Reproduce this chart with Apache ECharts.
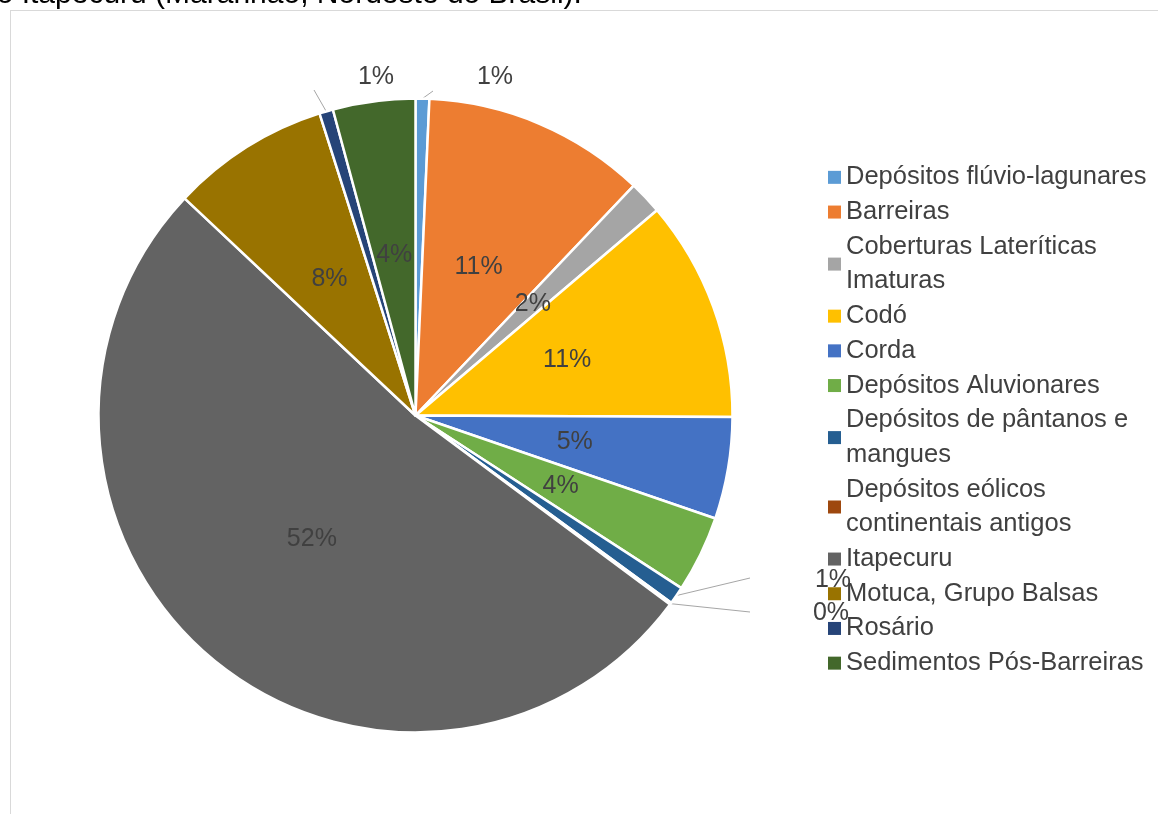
<!DOCTYPE html>
<html>
<head>
<meta charset="utf-8">
<script src="https://cdn.jsdelivr.net/npm/echarts@6/dist/echarts.min.js"></script>
<style>
html,body{margin:0;padding:0;background:#fff;}
#chart{width:1158px;height:814px;}
</style>
</head>
<body>
<div id="chart"></div>
<script>
const categories = [
  'Depósitos flúvio-lagunares',
  'Barreiras',
  'Coberturas Lateríticas Imaturas',
  'Codó',
  'Corda',
  'Depósitos Aluvionares',
  'Depósitos de pântanos e mangues',
  'Depósitos eólicos continentais antigos',
  'Itapecuru',
  'Motuca, Grupo Balsas',
  'Rosário',
  'Sedimentos Pós-Barreiras'
];
const values = [0.7, 11.4, 1.7, 11.3, 5.2, 3.9, 0.9, 0.1, 51.9, 8.1, 0.7, 4.2];
const colors = ['#5B9BD5','#ED7D31','#A5A5A5','#FFC000','#4472C4','#70AD47','#255E91','#9E480E','#636363','#997300','#264478','#43682B'];
const legendNames = {
  'Coberturas Lateríticas Imaturas': 'Coberturas Lateríticas\nImaturas',
  'Depósitos de pântanos e mangues': 'Depósitos de pântanos e\nmangues',
  'Depósitos eólicos continentais antigos': 'Depósitos eólicos\ncontinentais antigos'
};
// outside label placement (layout only): text centre and leader-line end
const outsideLabels = {
  0: {x: 495, y: 77, lx: 433, ly: 91},
  10: {x: 376, y: 77, lx: 314, ly: 90},
  6: {x: 833, y: 580, lx: 750, ly: 578},
  7: {x: 831, y: 613, lx: 750, ly: 612}
};

const FONT = '"Liberation Sans", Arial, sans-serif';
const data = categories.map((name, i) => {
  const item = {name: name, value: values[i], itemStyle: {color: colors[i]}};
  if (outsideLabels[i]) {
    item.label = {position: 'outside'};
    item.labelLine = {show: true, length: 10, length2: 0};
  }
  return item;
});

const chart = echarts.init(document.getElementById('chart'), null, {renderer: 'canvas'});
chart.setOption({
  animation: false,
  backgroundColor: '#fff',
  graphic: [
    {type: 'line', shape: {x1: 10, y1: 10.5, x2: 1158, y2: 10.5}, style: {stroke: '#d9d9d9', lineWidth: 1}, silent: true},
    {type: 'line', shape: {x1: 10.5, y1: 10, x2: 10.5, y2: 814}, style: {stroke: '#d9d9d9', lineWidth: 1}, silent: true},
    {type: 'text', left: -20, top: -20, style: {text: 'rio Itapecuru (Maranhão, Nordeste do Brasil).', font: '30px ' + FONT, fill: '#000'}, silent: true}
  ],
  legend: {
    orient: 'vertical',
    left: 823,
    top: 155,
    itemWidth: 13,
    itemHeight: 13,
    itemGap: 0,
    icon: 'rect',
    z: 10,
    itemStyle: {borderWidth: 0},
    formatter: n => legendNames[n] || n,
    textStyle: {fontFamily: FONT, fontSize: 25.5, color: '#404040', lineHeight: 34.7},
    data: categories
  },
  series: [{
    type: 'pie',
    center: [415.5, 415.5],
    radius: [0, 317],
    startAngle: 90,
    clockwise: true,
    avoidLabelOverlap: false,
    itemStyle: {borderColor: '#fff', borderWidth: 2.5},
    label: {
      show: true,
      position: 'inside',
      formatter: p => Math.round(p.percent) + '%',
      fontFamily: FONT,
      fontSize: 25,
      color: '#404040'
    },
    labelLine: {show: false, lineStyle: {color: '#a6a6a6', width: 1}},
    labelLayout: function (p) {
      const o = outsideLabels[p.dataIndex];
      if (!o) return;
      const res = {x: o.x, y: o.y, align: 'center', verticalAlign: 'middle'};
      if (p.labelLinePoints && p.labelLinePoints.length) {
        res.labelLinePoints = [p.labelLinePoints[0], [o.lx, o.ly]];
      }
      return res;
    },
    emphasis: {disabled: true},
    data: data
  }]
});
</script>
</body>
</html>
